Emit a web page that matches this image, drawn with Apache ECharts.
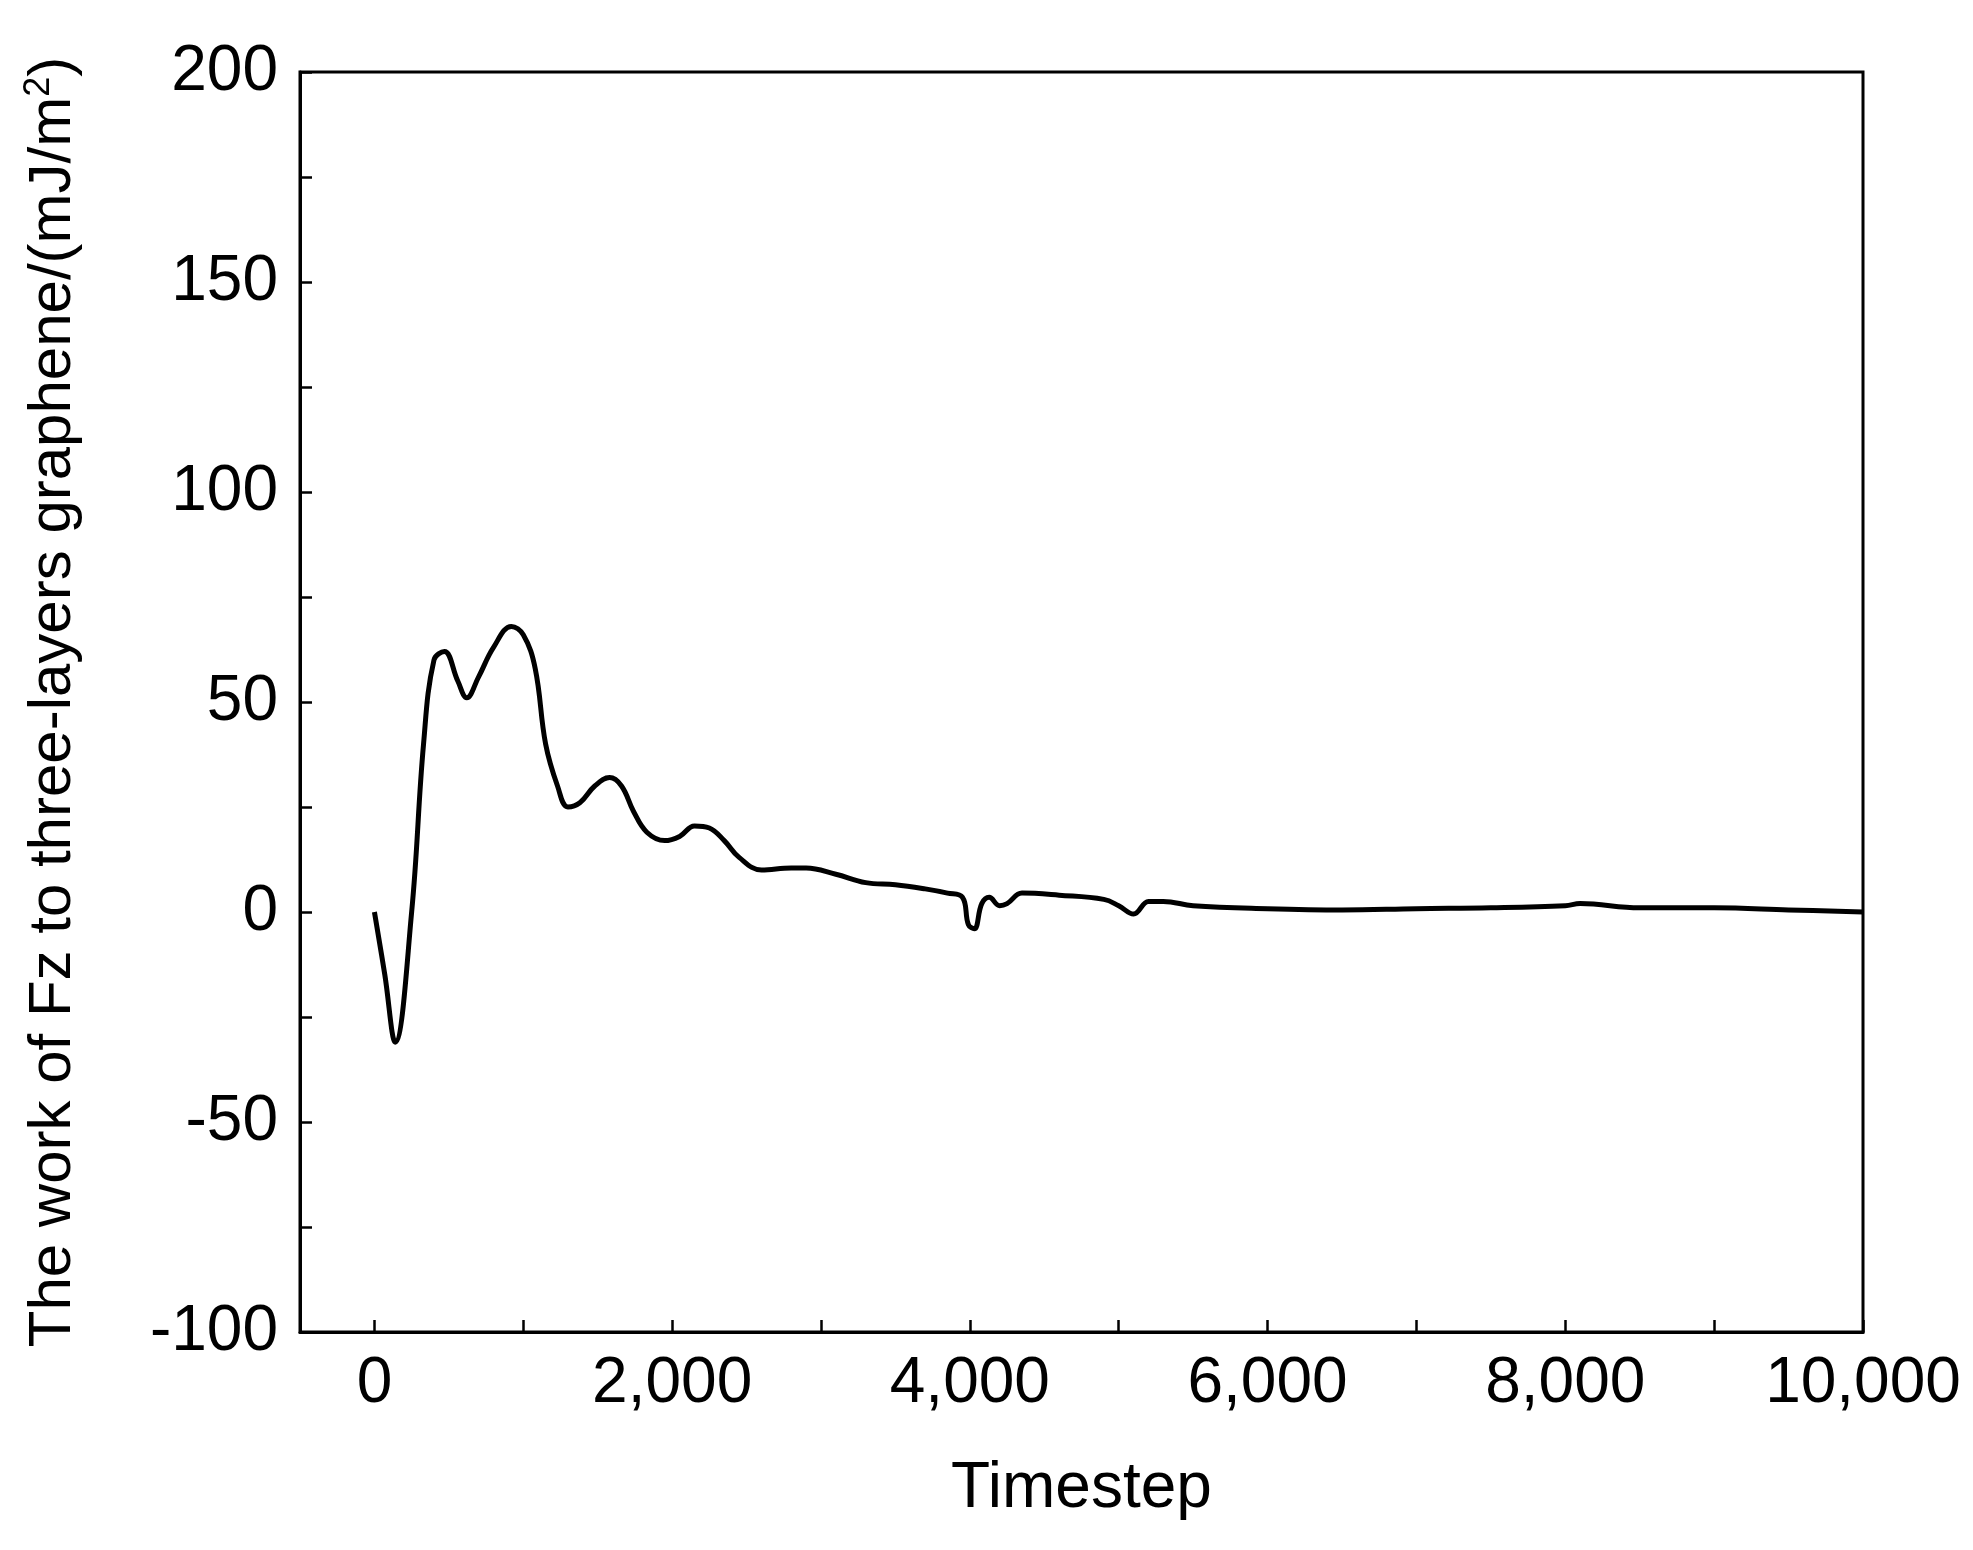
<!DOCTYPE html>
<html>
<head>
<meta charset="utf-8">
<script src="https://cdn.jsdelivr.net/npm/echarts@6/dist/echarts.min.js"></script>
<style>html,body{margin:0;padding:0;background:#fff}#main{width:1973px;height:1550px}</style>
</head>
<body>
<div id="main"></div>
<script>
var timesteps = [0,70,140,250,330,400,470,560,620,700,800,920,1000,1080,1150,1230,1300,1380,1480,1580,1660,1740,1830,1950,2050,2150,2250,2350,2450,2600,2800,2900,3100,3300,3500,3700,3850,3950,3990,4030,4080,4130,4200,4250,4350,4600,4900,5000,5100,5200,5300,5500,6000,6500,7000,7500,8000,8100,8500,9000,9500,10000];
var work = [0,-15,-31,0,40,60,62,55,51,56,63,68,66,58,40,30,25,26,30,32,30,24,19,17,18,20.5,20,17,13,10,10.5,10.5,9,7,6.5,5.5,4.5,3.5,-3,-4,2,3.5,1.5,2,4.5,4,3,1.5,-0.5,2.5,2.5,1.5,0.8,0.5,0.8,1,1.5,2,1,1,0.5,0];
var xTickValues = [0,1000,2000,3000,4000,5000,6000,7000,8000,9000,10000];
var xLabelValues = [0,2000,4000,6000,8000,10000];
var yTicks = [-100, -50, 0, 50, 100, 150, 200];

var myChart = echarts.init(document.getElementById('main'));
var font = 'Liberation Sans, Arial, sans-serif';
var lineStyle = { color: '#000', width: 3 };
var data = timesteps.map(function (t, i) { return [t, work[i]]; });

var option = {
    animation: false,
    grid: { left: 300, right: 110, top: 72, bottom: 218, show: true, borderColor: '#000', borderWidth: 3 },
    xAxis: {
        type: 'value', min: -500, max: 10000,
        axisLine: { onZero: false, lineStyle: lineStyle },
        axisTick: { inside: true, length: 12, customValues: xTickValues, lineStyle: { color: '#000', width: 2.5 } },
        axisLabel: { color: '#000', fontSize: 64, fontFamily: font, margin: 20, customValues: xLabelValues },
        splitLine: { show: false },
        name: 'Timestep', nameLocation: 'middle', nameGap: 125,
        nameTextStyle: { color: '#000', fontSize: 64, fontFamily: font }
    },
    yAxis: {
        type: 'value', min: yTicks[0], max: yTicks[yTicks.length - 1], interval: 50,
        axisLine: { onZero: false, lineStyle: lineStyle },
        axisTick: { inside: true, length: 12, lineStyle: { color: '#000', width: 2.5 } },
        minorTick: { show: true, splitNumber: 2, length: 12, lineStyle: { color: '#000', width: 2.5 } },
        axisLabel: { color: '#000', fontSize: 64, fontFamily: font, margin: 22 },
        splitLine: { show: false },
        name: '{n|The work of Fz to three-layers graphene/(mJ/m}{s|2}{n|)}',
        nameLocation: 'middle', nameGap: 215,
        nameTextStyle: {
            rich: {
                n: { color: '#000', fontSize: 60, fontFamily: font },
                s: { color: '#000', fontSize: 36, fontFamily: font, verticalAlign: 'top', padding: [0, 0, 28, 0] }
            }
        }
    },
    series: [{
        type: 'line', data: data, smooth: 0.4, showSymbol: false,
        lineStyle: { color: '#000', width: 5 }
    }]
};
myChart.setOption(option);
</script>
</body>
</html>
